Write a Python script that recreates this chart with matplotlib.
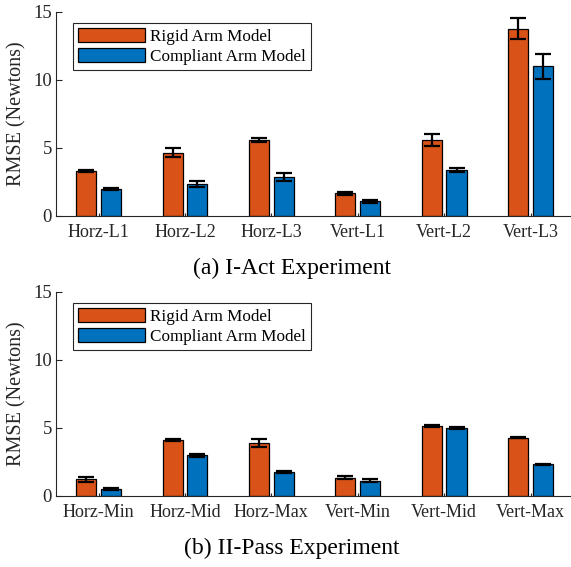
import matplotlib
matplotlib.use("Agg")
import matplotlib.pyplot as plt
import numpy as np

plt.rcParams['font.family'] = ['Liberation Serif', 'DejaVu Serif']

cats_a = ["Horz-L1", "Horz-L2", "Horz-L3", "Vert-L1", "Vert-L2", "Vert-L3"]
rigid_a = [3.31, 4.66, 5.56, 1.67, 5.61, 13.77]
rigid_a_err = [0.04, 0.32, 0.15, 0.13, 0.45, 0.77]
comp_a = [1.99, 2.38, 2.89, 1.08, 3.38, 11.0]
comp_a_err = [0.05, 0.22, 0.28, 0.12, 0.17, 0.9]

cats_b = ["Horz-Min", "Horz-Mid", "Horz-Max", "Vert-Min", "Vert-Mid", "Vert-Max"]
rigid_b = [1.23, 4.12, 3.90, 1.35, 5.15, 4.29]
rigid_b_err = [0.17, 0.08, 0.30, 0.13, 0.07, 0.04]
comp_b = [0.51, 2.99, 1.76, 1.13, 5.02, 2.33]
comp_b_err = [0.07, 0.10, 0.07, 0.10, 0.08, 0.05]

captions = ["(a) I-Act Experiment", "(b) II-Pass Experiment"]
labels = ["Rigid Arm Model", "Compliant Arm Model"]
ORANGE = "#D95319"
BLUE = "#0072BD"
AX = "#262626"

W, H = 571, 567
fig = plt.figure(figsize=(W/100, H/100), dpi=100)

def draw(rect, cats, r, re, c, ce, caption, cap_y):
    ax = fig.add_axes(rect)
    x = np.arange(1, len(cats) + 1)
    off = 0.143
    bw = 0.232
    ax.bar(x - off, r, bw, color=ORANGE, edgecolor="black", linewidth=0.9, label=labels[0], zorder=2)
    ax.bar(x + off, c, bw, color=BLUE, edgecolor="black", linewidth=0.9, label=labels[1], zorder=2)
    ax.errorbar(x - off, r, yerr=re, fmt="none", ecolor="black", elinewidth=1.6, capsize=6, capthick=1.6, zorder=3)
    ax.errorbar(x + off, c, yerr=ce, fmt="none", ecolor="black", elinewidth=1.6, capsize=6, capthick=1.6, zorder=3)
    ax.set_xlim(0.508, 6.468)
    ax.set_ylim(0, 15)
    ax.set_yticks([0, 5, 10, 15])
    ax.set_xticks(x)
    ax.set_xticklabels(cats)
    for s in ["top", "right"]:
        ax.spines[s].set_visible(False)
    for s in ["left", "bottom"]:
        ax.spines[s].set_color(AX)
        ax.spines[s].set_linewidth(0.8)
    ax.tick_params(axis="both", direction="in", colors=AX, labelsize=13, length=4, width=0.8)
    ax.tick_params(axis="x", length=2, pad=6)
    ax.tick_params(axis="y", pad=3, labelsize=13.5)
    ax.set_ylabel("RMSE (Newtons)", fontsize=14.5, color=AX, labelpad=5)
    leg = ax.legend(loc="upper left", bbox_to_anchor=(0.033, 0.947), fontsize=12.3,
                    frameon=True, fancybox=False, edgecolor=AX, framealpha=1,
                    handlelength=3.9, handleheight=0.85, labelspacing=0.22,
                    borderpad=0.3, handletextpad=0.3, borderaxespad=0)
    leg.get_frame().set_linewidth(0.8)
    fig.text(292/W, 1 - cap_y/H, caption, ha="center", va="center", fontsize=17, color="black")
    return ax

draw([56/W, 1 - 216/H, 1 - 56/W, 204/H], cats_a, rigid_a, rigid_a_err, comp_a, comp_a_err, captions[0], 268)
draw([56/W, 1 - 496/H, 1 - 56/W, 204/H], cats_b, rigid_b, rigid_b_err, comp_b, comp_b_err, captions[1], 548)

fig.savefig("out.png", dpi=100)
